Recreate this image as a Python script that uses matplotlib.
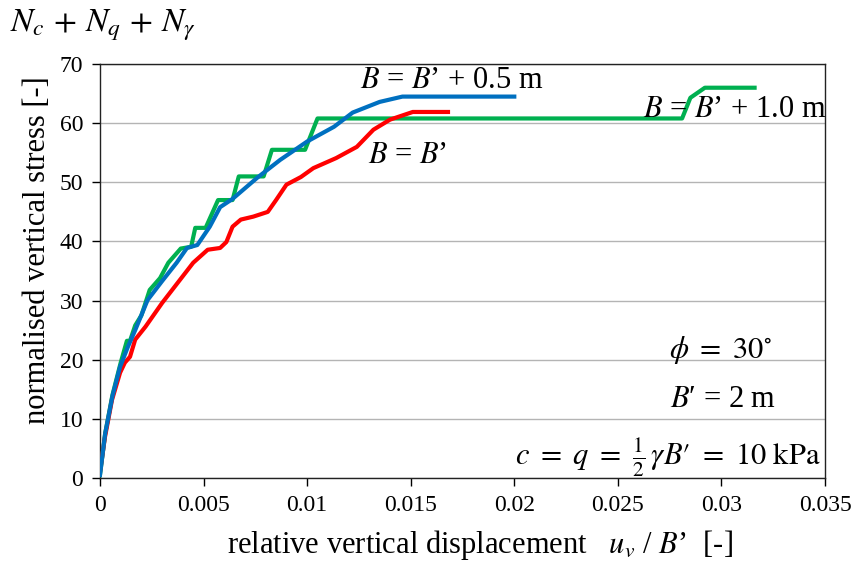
import matplotlib
matplotlib.use('Agg')
import matplotlib.pyplot as plt

plt.rcParams['font.family'] = 'Liberation Serif'
plt.rcParams['mathtext.fontset'] = 'stix'

# B = B'
x_red = [0, 0.00024, 0.00058, 0.00097, 0.0012, 0.00145, 0.0017, 0.0022, 0.003, 0.00386,
         0.0045, 0.0052, 0.0058, 0.0061, 0.0064, 0.0068, 0.0074, 0.0081, 0.0085, 0.009,
         0.0097, 0.0103, 0.0114, 0.0124, 0.0132, 0.014, 0.0151, 0.0168]
y_red = [1.0, 6.9, 13.2, 17.8, 19.5, 20.5, 23.4, 25.6, 29.6, 33.5,
         36.4, 38.6, 38.9, 39.9, 42.5, 43.7, 44.2, 45.0, 47.0, 49.6,
         50.9, 52.4, 54.1, 56.0, 58.9, 60.6, 61.9, 61.9]

# B = B' + 0.5 m
x_blue = [0, 0.00025, 0.0006, 0.00097, 0.00135, 0.0017, 0.0023, 0.003, 0.0037, 0.0042,
          0.0047, 0.0053, 0.0058, 0.0064, 0.0069, 0.0076, 0.0087, 0.01, 0.0113, 0.0122,
          0.0135, 0.0146, 0.02]
y_blue = [0.5, 7.5, 13.8, 18.8, 22.2, 25.0, 30.1, 33.3, 36.4, 38.9,
          39.4, 42.5, 45.8, 47.2, 48.7, 50.8, 53.8, 56.9, 59.4, 61.8,
          63.6, 64.5, 64.5]

# B = B' + 1.0 m
x_green = [0, 0.00025, 0.0006, 0.001, 0.0013, 0.00145, 0.0017, 0.002, 0.0024, 0.0029,
           0.0033, 0.0039, 0.0044, 0.0046, 0.0051, 0.0057, 0.0064, 0.0067, 0.0079, 0.0083,
           0.0099, 0.0105, 0.0281, 0.0285, 0.0292, 0.0316]
y_green = [0.5, 7.5, 14.0, 19.5, 23.2, 23.2, 25.8, 27.5, 31.8, 33.8,
           36.4, 38.8, 39.1, 42.3, 42.3, 47.0, 47.0, 51.0, 51.0, 55.5,
           55.5, 60.8, 60.8, 64.3, 66.0, 66.0]

x_ticks = [0, 0.005, 0.01, 0.015, 0.02, 0.025, 0.03, 0.035]
x_tick_labels = ['0', '0.005', '0.01', '0.015', '0.02', '0.025', '0.03', '0.035']
y_ticks = [0, 10, 20, 30, 40, 50, 60, 70]

fig = plt.figure(figsize=(8.53, 5.62), dpi=100)
ax = fig.add_axes([0.1172, 0.1495, 0.85, 0.7365])

ax.plot(x_green, y_green, color='#00B050', lw=3, zorder=3)
ax.plot(x_red, y_red, color='#FF0000', lw=3, zorder=4)
ax.plot(x_blue, y_blue, color='#0070C0', lw=3, zorder=5)

ax.set_xlim(0, 0.035)
ax.set_ylim(0, 70)
ax.set_xticks(x_ticks)
ax.set_xticklabels(x_tick_labels)
ax.set_yticks(y_ticks)
ax.tick_params(labelsize=17, direction='out', length=6, width=1, pad=6)
ax.grid(axis='y', color='#b4b4b4', lw=1)
ax.set_axisbelow(True)
for s in ax.spines.values():
    s.set_color('#222222')
    s.set_linewidth(1)

ax.set_ylabel('normalised vertical stress [-]', fontsize=22)
ax.set_xlabel(r"relative vertical displacement   $u_v$ / $B$’  [-]", fontsize=22)
ax.xaxis.set_label_coords(0.524, -0.162)
ax.yaxis.set_label_coords(-0.0855, 0.55)
ax.xaxis.label.set_va('center')
ax.yaxis.label.set_va('center')

fig.text(0.012, 0.955, r'$N_c\, +\, N_q\, +\, N_\gamma$', fontsize=24, va='center', ha='left')

ax.text(0.01256, 67.3, r"$B$ = $B$’ + 0.5 m", fontsize=22, ha='left', va='center')
ax.text(0.01295, 54.6, r"$B$ = $B$’", fontsize=22, ha='left', va='center')
ax.text(0.02623, 62.3, r"$B$ = $B$’ + 1.0 m", fontsize=22, ha='left', va='center',
        clip_on=False)
ax.text(0.02995, 21.7, r"$\phi\ =\ 30^{\circ}$", fontsize=22, ha='center', va='center')
ax.text(0.0301, 13.2, r"$B$′ = 2 m", fontsize=22, ha='center', va='center')
ax.text(0.0348, 3.4, r"$c\ =\ q\ =\ \frac{1}{2}\,\gamma B′\ =\ 10\ \mathrm{kPa}$", fontsize=22,
        ha='right', va='center')

fig.savefig('out.png', dpi=100)
